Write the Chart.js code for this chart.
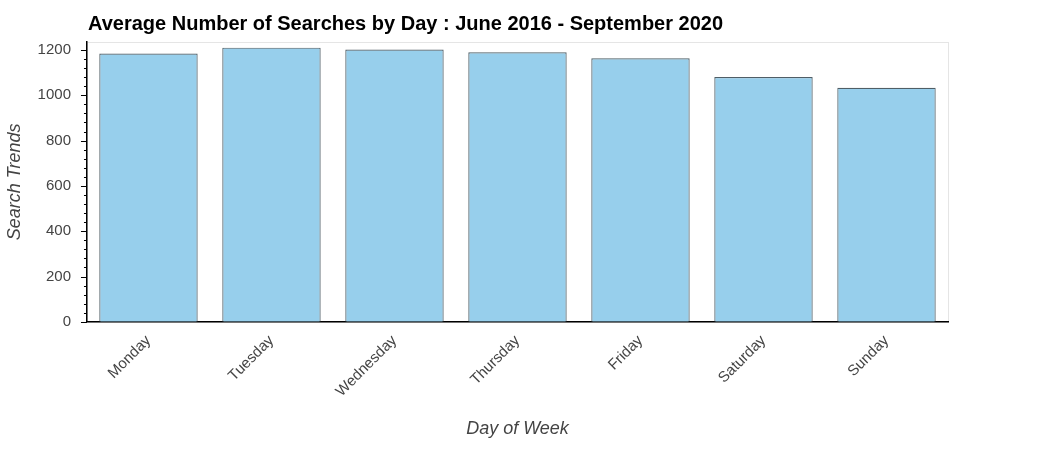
<!DOCTYPE html>
<html>
<head>
<meta charset="utf-8">
<script src="https://cdn.jsdelivr.net/npm/chart.js@4"></script>
<style>
  body { margin: 0; background: #fff; }
  #wrap { width: 1050px; height: 450px; }
</style>
</head>
<body>
<div id="wrap"><canvas id="chart"></canvas></div>
<script>
// data
const days = ['Monday', 'Tuesday', 'Wednesday', 'Thursday', 'Friday', 'Saturday', 'Sunday'];
const searches = [1184, 1210, 1202, 1190, 1163, 1080, 1033];
const yTicks = [0, 200, 400, 600, 800, 1000, 1200];
const titleText = 'Average Number of Searches by Day : June 2016 - September 2020';

// title, light frame round plot area, minor ticks on y axis
const framePlugin = {
    id: 'frame',
    beforeDraw(chart) {
        const { ctx, chartArea: a } = chart;
        ctx.save();
        ctx.strokeStyle = '#e5e5e5';
        ctx.lineWidth = 1;
        ctx.strokeRect(a.left + 0.5, a.top + 0.5, a.right - a.left, a.bottom - a.top);
        ctx.fillStyle = '#000';
        ctx.font = 'bold 20px Arial, "Liberation Sans"';
        ctx.textBaseline = 'alphabetic';
        ctx.fillText(titleText, a.left + 1, 30);
        ctx.restore();
    },
    afterDraw(chart) {
        const { ctx, scales: { y } } = chart;
        ctx.save();
        ctx.strokeStyle = '#000';
        ctx.lineWidth = 1;
        for (let v = 0; v <= y.max; v += 40) {
            const py = Math.round(y.getPixelForValue(v)) + 0.5;
            const len = v % 200 === 0 ? 6 : 3;
            ctx.beginPath();
            ctx.moveTo(y.right - len, py);
            ctx.lineTo(y.right, py);
            ctx.stroke();
        }
        ctx.restore();
    }
};

new Chart(document.getElementById('chart'), {
    type: 'bar',
    data: {
        labels: days,
        datasets: [{
            data: searches,
            backgroundColor: '#97cfec',
            borderColor: '#4f5e66',
            borderWidth: 1.2,
            barPercentage: 0.8,
            categoryPercentage: 1.0,
        }],
    },
    options: {
        responsive: true,
        maintainAspectRatio: false,
        animation: false,
        layout: { padding: { left: 0, right: 102, top: 42, bottom: 6 } },
        plugins: {
            legend: { display: false },
            tooltip: { enabled: false },
            title: { display: false },
        },
        scales: {
            x: {
                grid: { display: false, drawTicks: true },
                border: { color: '#000', width: 1.5 },
                ticks: {
                    color: '#444',
                    font: { family: 'Arial, Liberation Sans', size: 15 },
                    maxRotation: 45, minRotation: 45,
                    padding: 2,
                },
                title: {
                    display: true, text: 'Day of Week', color: '#444',
                    font: { family: 'Arial, Liberation Sans', size: 18, style: 'italic' },
                    padding: { top: 16 },
                },
            },
            y: {
                min: 0, max: 1235,
                afterBuildTicks(axis) { axis.ticks = yTicks.map(v => ({ value: v })); },
                grid: { display: false },
                border: { color: '#000', width: 1.5 },
                ticks: {
                    color: '#444',
                    font: { family: 'Arial, Liberation Sans', size: 15 },
                    padding: 8,
                    callback: v => String(v),
                },
                title: {
                    display: true, text: 'Search Trends', color: '#444',
                    font: { family: 'Arial, Liberation Sans', size: 18, style: 'italic' },
                    padding: { bottom: 4 },
                },
            },
        },
    },
    plugins: [framePlugin],
});
</script>
</body>
</html>
